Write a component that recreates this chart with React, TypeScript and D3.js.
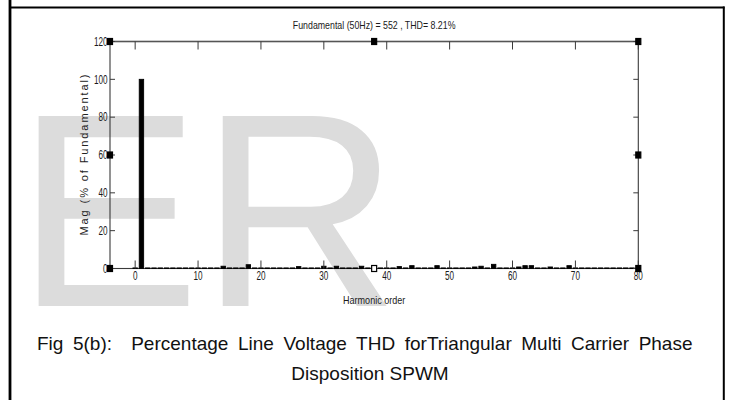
import React from "react";
import * as d3 from "d3";

const harmonicOrder: number[] = [
  0, 1, 2, 3, 4, 5, 6, 7, 8, 9,
  10, 11, 12, 13, 14, 15, 16, 17, 18, 19,
  20, 21, 22, 23, 24, 25, 26, 27, 28, 29,
  30, 31, 32, 33, 34, 35, 36, 37, 38, 39,
  40, 41, 42, 43, 44, 45, 46, 47, 48, 49,
  50, 51, 52, 53, 54, 55, 56, 57, 58, 59,
  60, 61, 62, 63, 64, 65, 66, 67, 68, 69,
  70, 71, 72, 73, 74, 75, 76, 77, 78, 79,
  80,
];
const magnitude: number[] = [
  0.3, 100, 0.3, 0.3, 0.3, 0.3, 0.3, 0.3, 0.3, 0.3,
  0.3, 0.3, 0.3, 0.3, 1.2, 0.3, 0.3, 0.3, 2.0, 0.3,
  0.3, 0.3, 0.3, 0.3, 0.3, 0.3, 1.0, 0.3, 0.3, 0.3,
  1.2, 0.3, 1.2, 0.3, 0.3, 0.3, 1.2, 0.3, 0.3, 0.3,
  0.3, 0.3, 1.0, 0.3, 1.5, 0.3, 0.3, 0.3, 1.5, 0.3,
  0.3, 0.3, 0.3, 0.3, 0.8, 1.2, 0.3, 2.2, 0.3, 0.3,
  0.3, 0.8, 1.5, 1.5, 0.3, 0.3, 0.8, 0.3, 0.3, 1.5,
  0.3, 0.3, 0.3, 0.3, 0.3, 0.3, 0.3, 0.3, 0.3, 0.3,
  0.3,
];
const xTicks: number[] = [0, 10, 20, 30, 40, 50, 60, 70, 80];
const yTicks: number[] = [0, 20, 40, 60, 80, 100, 120];
const xDomain: number[] = [-4, 80];
const yDomain: number[] = [0, 120];

const titleText = "Fundamental (50Hz) = 552 , THD= 8.21%";
const xLabel = "Harmonic order";
const yLabel = "Mag (% of Fundamental)";
const captionLine1 = "Fig 5(b):  Percentage Line Voltage THD forTriangular Multi Carrier Phase";
const captionLine2 = "Disposition SPWM";
const watermark = "ER";

const SANS = "'Liberation Sans', Arial, sans-serif";

function NarrowText(props: {
  x: number; y: number; sx: number; size: number; anchor: string; children: React.ReactNode;
}) {
  const { x, y, sx, size, anchor, children } = props;
  return (
    <text
      transform={`translate(${x},${y}) scale(${sx},1)`}
      textAnchor={anchor}
      fontFamily={SANS}
      fontSize={size}
      fill="#1a1a1a"
    >
      {children}
    </text>
  );
}

// numeric tick label compressed horizontally via textLength (digits are 0.556em wide)
function TickLabel(props: { x: number; y: number; anchor: string; value: number }) {
  const { x, y, anchor, value } = props;
  const s = String(value);
  const size = 12;
  const len = s.length * 0.556 * size * 0.68;
  return (
    <text
      x={x}
      y={y}
      textAnchor={anchor}
      fontFamily={SANS}
      fontSize={size}
      fill="#1a1a1a"
      textLength={len}
      lengthAdjust="spacingAndGlyphs"
    >
      {s}
    </text>
  );
}

export default function App() {
  const W = 730, H = 400;
  const xs = d3.scaleLinear().domain(xDomain).range([110, 638.3]);
  const ys = d3.scaleLinear().domain(yDomain).range([268.5, 41.5]);
  const [L, R] = xs.range();
  const [B, T] = ys.range();
  const midX = (L + R) / 2, midY = (T + B) / 2;
  const barW = xs(0.7) - xs(0);
  const axisCol = "#3a3a3a";
  const handles = [
    [L, T, true], [midX, T, true], [R, T, true],
    [L, midY, true], [R, midY, true],
    [L, B, true], [midX, B, false], [R, B, true],
  ] as [number, number, boolean][];

  return (
    <svg width={W} height={H} style={{ position: "absolute", left: 0, top: 0, background: "#fff" }}>
      <rect x={0} y={0} width={W} height={H} fill="#fff" />
      {/* watermark */}
      <text x={16} y={306} fontFamily={SANS} fontSize={276} fill="#dcdcdc">
        {watermark}
      </text>
      {/* outer frame */}
      <line x1={10} y1={0} x2={10} y2={H} stroke="#000" strokeWidth={2.8} />
      <line x1={9} y1={7.5} x2={724.5} y2={7.5} stroke="#000" strokeWidth={2} />
      <line x1={723.8} y1={6.5} x2={723.8} y2={H} stroke="#000" strokeWidth={2} />

      {/* axes box */}
      <rect x={L} y={T} width={R - L} height={B - T} fill="none" stroke={axisCol} strokeWidth={1.1} />
      <line x1={L} x2={R} y1={T} y2={T} stroke="#555" strokeWidth={1.6} />

      {/* bars */}
      {harmonicOrder.map((h, i) => (
        <rect
          key={h}
          x={xs(h) - barW / 2}
          y={ys(magnitude[i])}
          width={barW}
          height={ys(0) - ys(magnitude[i])}
          fill="#000"
          stroke="#000"
          strokeWidth={0.9}
        />
      ))}

      {/* x ticks */}
      {xTicks.map((t) => (
        <g key={"xt" + t}>
          <line x1={xs(t)} x2={xs(t)} y1={B} y2={B - 8} stroke={axisCol} strokeWidth={1} />
          <line x1={xs(t)} x2={xs(t)} y1={T} y2={T + 8} stroke={axisCol} strokeWidth={1} />
          <TickLabel x={xs(t)} y={279.5} anchor="middle" value={t} />
        </g>
      ))}
      {/* y ticks */}
      {yTicks.map((t) => (
        <g key={"yt" + t}>
          <line x1={L} x2={L + 5} y1={ys(t)} y2={ys(t)} stroke={axisCol} strokeWidth={1} />
          <line x1={R} x2={R - 5} y1={ys(t)} y2={ys(t)} stroke={axisCol} strokeWidth={1} />
          <TickLabel x={107.5} y={ys(t) + 4.2} anchor="end" value={t} />
        </g>
      ))}

      {/* selection handles */}
      {handles.map(([hx, hy, filled], i) => (
        <rect
          key={"h" + i}
          x={hx - 2.5}
          y={hy - 3}
          width={5}
          height={6}
          fill={filled ? "#000" : "#fff"}
          stroke="#000"
          strokeWidth={1.2}
        />
      ))}

      {/* labels */}
      <NarrowText x={midX} y={29} sx={0.8} size={11} anchor="middle">{titleText}</NarrowText>
      <NarrowText x={midX} y={304} sx={0.86} size={10.5} anchor="middle">{xLabel}</NarrowText>
      <text
        transform={`translate(87.5, ${midY}) rotate(-90)`}
        textAnchor="middle"
        fontFamily={SANS}
        fontSize={11}
        fill="#222"
        textLength={161}
        lengthAdjust="spacing"
      >
        {yLabel}
      </text>

      {/* caption */}
      <text
        x={37}
        y={349.5}
        textAnchor="start"
        fontFamily={SANS}
        fontSize={19}
        fill="#111"
        wordSpacing={4.3}
        style={{ whiteSpace: "pre" }}
      >
        {captionLine1}
      </text>
      <text x={370} y={379.5} textAnchor="middle" fontFamily={SANS} fontSize={19} fill="#111">
        {captionLine2}
      </text>
    </svg>
  );
}
